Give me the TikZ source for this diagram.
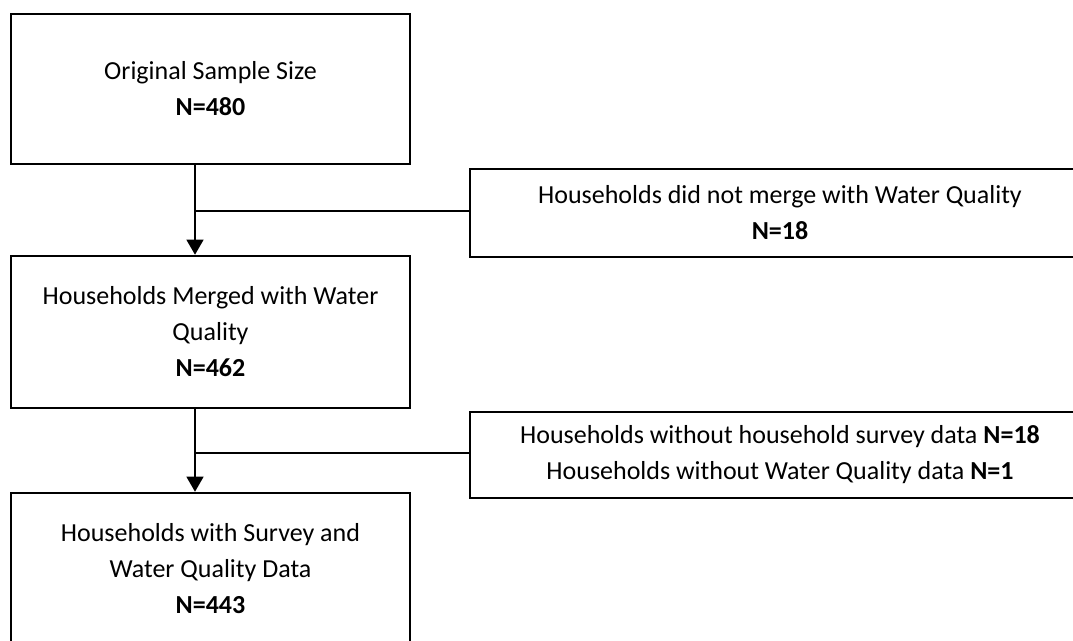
\documentclass[tikz,border=0pt]{standalone}
\usepackage{fontspec}
\setmainfont{Carlito}
\usetikzlibrary{arrows.meta,calc}
\begin{document}
\begin{tikzpicture}[x=1pt,y=-1pt,
  box/.style={draw=black,line width=2.6pt,align=center,inner sep=0pt,
    font=\fontsize{26}{36}\selectfont},
  conn/.style={draw=black,line width=1.3pt},
  arr/.style={conn,-{Triangle[width=17pt,length=15pt]}}]
\useasboundingbox (0,0) rectangle (1073,640);
\clip (0,0) rectangle (1073,640);
\node[box,minimum width=399pt,minimum height=150pt] (b1) at (210.5,89)
  {Original Sample Size\\\textbf{N=480}};
\node[box,minimum width=620pt,minimum height=88pt] (b2) at (780,213)
  {Households did not merge with Water Quality\\\textbf{N=18}};
\node[box,minimum width=399pt,minimum height=152pt] (b3) at (210.5,332)
  {Households Merged with Water\\Quality\\\textbf{N=462}};
\node[box,minimum width=620pt,minimum height=86pt] (b4) at (780,455)
  {Households without household survey data \textbf{N=18}\\Households without Water Quality data \textbf{N=1}};
\node[box,minimum width=399pt,minimum height=152pt] (b5) at (210.5,569)
  {Households with Survey and\\Water Quality Data\\\textbf{N=443}};
\coordinate (j1) at (195,211);
\coordinate (j2) at (195,453);
\draw[arr] (b1.south -| j1) -- (b3.north -| j1);
\draw[conn] (j1) -- (b2.west |- j1);
\draw[arr] (b3.south -| j2) -- (b5.north -| j2);
\draw[conn] (j2) -- (b4.west |- j2);
\end{tikzpicture}
\end{document}
